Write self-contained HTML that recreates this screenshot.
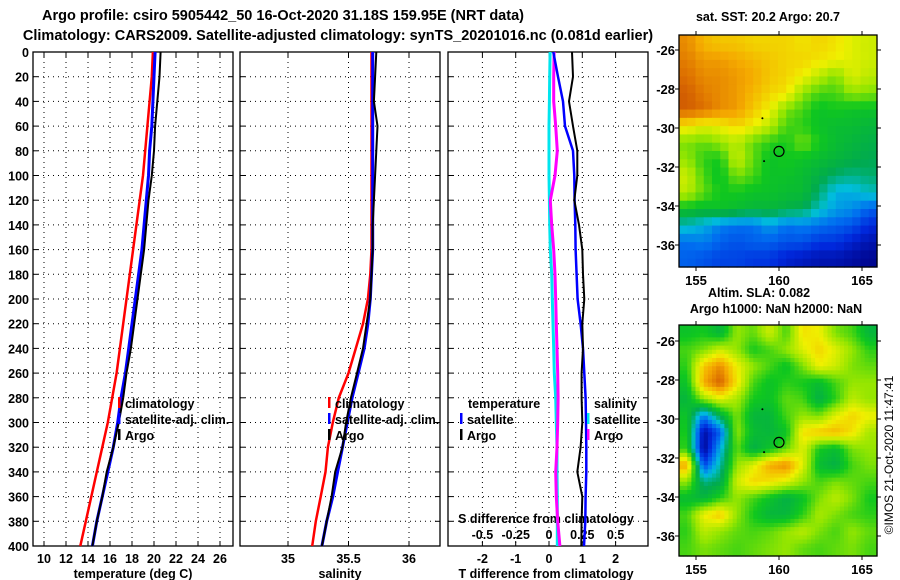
<!DOCTYPE html>
<html><head><meta charset="utf-8"><style>
html,body{margin:0;padding:0;background:#fff;}
svg{display:block;font-family:"Liberation Sans",Arial,sans-serif;font-weight:bold;}
</style></head><body>
<svg id="c" width="900" height="580" viewBox="0 0 900 580">
<text x="283" y="20" font-size="14.5" text-anchor="middle">Argo profile: csiro 5905442_50 16-Oct-2020 31.18S 159.95E (NRT data)</text>
<text x="338" y="40" font-size="14.5" text-anchor="middle">Climatology: CARS2009. Satellite-adjusted climatology: synTS_20201016.nc (0.081d earlier)</text>
<g id="g"></g>
</svg>
<script>
// ---- data ----
const depths = [0,20,40,60,80,100,120,140,160,180,200,220,240,260,280,300,320,340,360,380,400];
const tempClim = [19.9,19.8,19.6,19.4,19.2,19.0,18.7,18.4,18.1,17.8,17.5,17.2,16.9,16.6,16.2,15.8,15.3,14.8,14.3,13.8,13.3];
const tempSat  = [20.1,20.0,19.9,19.8,19.6,19.5,19.3,19.1,18.9,18.6,18.3,18.0,17.7,17.4,17.0,16.7,16.3,15.8,15.3,14.8,14.4];
const tempArgo = [20.6,20.5,20.3,20.1,20.0,19.8,19.5,19.3,19.1,18.8,18.5,18.2,17.9,17.5,17.2,16.8,16.3,15.7,15.3,14.8,14.4];
const salClim = [35.69,35.69,35.69,35.69,35.69,35.69,35.69,35.69,35.69,35.68,35.66,35.62,35.56,35.50,35.42,35.37,35.33,35.31,35.27,35.23,35.20];
const salSat  = [35.70,35.70,35.70,35.70,35.70,35.70,35.70,35.70,35.70,35.69,35.68,35.66,35.63,35.58,35.53,35.49,35.45,35.41,35.37,35.32,35.28];
const salArgo = [35.73,35.72,35.71,35.74,35.73,35.72,35.71,35.70,35.70,35.69,35.68,35.65,35.62,35.57,35.52,35.48,35.45,35.39,35.36,35.32,35.28];
const tDiffSat  = [0.13,0.27,0.42,0.48,0.72,0.76,0.77,0.79,0.80,0.83,0.86,0.95,1.02,1.06,1.10,1.11,1.12,1.12,1.10,1.09,1.05];
const tDiffArgo = [0.69,0.72,0.60,0.72,0.85,0.85,0.76,0.90,1.00,1.02,1.06,1.00,1.02,0.98,0.98,1.00,0.95,0.85,1.00,0.98,0.97];
const sDiffSat  = [0.008,0.005,0.003,0.0,0.0,0.0,0.003,0.005,0.01,0.02,0.025,0.03,0.035,0.04,0.05,0.055,0.06,0.06,0.062,0.062,0.062];
const sDiffArgo = [0.038,0.035,0.035,0.05,0.062,0.045,0.01,0.02,0.035,0.045,0.05,0.055,0.06,0.065,0.068,0.065,0.06,0.05,0.055,0.065,0.082];
const depthTicks = [0,20,40,60,80,100,120,140,160,180,200,220,240,260,280,300,320,340,360,380,400];
const tempTicks = [10,12,14,16,18,20,22,24,26];
const salTicks = [35,35.5,36];
const tdTicks = [-2,-1,0,1,2];
const sdTicks = [-0.5,-0.25,0,0.25,0.5];
// SST map (colour index 0..1), rows north->south, cols west->east
const sstGrid = [
[.86,.8,.78,.78,.76,.76,.76,.74,.76,.74,.7,.68],
[.88,.84,.84,.82,.8,.78,.76,.76,.74,.72,.7,.68],
[.9,.86,.86,.84,.82,.78,.76,.72,.66,.6,.7,.66],
[.92,.88,.86,.84,.8,.76,.74,.62,.56,.56,.62,.6],
[.92,.9,.86,.84,.78,.72,.6,.56,.5,.52,.5,.5],
[.74,.7,.72,.76,.72,.66,.56,.54,.5,.48,.48,.46],
[.6,.58,.62,.66,.58,.54,.52,.6,.52,.48,.46,.44],
[.62,.54,.52,.68,.58,.5,.52,.5,.48,.46,.44,.42],
[.68,.56,.5,.6,.56,.5,.5,.48,.44,.4,.38,.4],
[.66,.58,.52,.52,.5,.5,.48,.48,.4,.3,.3,.34],
[.5,.48,.5,.48,.46,.46,.44,.42,.34,.28,.26,.2],
[.34,.3,.24,.22,.22,.28,.22,.24,.22,.2,.18,.12],
[.22,.24,.2,.18,.2,.2,.18,.18,.14,.14,.1,.06],
[.2,.18,.16,.16,.14,.14,.1,.08,.06,.06,.04,.02]];
// SLA map (colour index 0..1)
const slaGrid = [
[.5,.52,.46,.62,.58,.68,.56,.74,.72,.6,.56,.46],
[.56,.6,.68,.62,.52,.56,.62,.7,.76,.7,.62,.54],
[.54,.78,.86,.72,.62,.56,.5,.6,.72,.68,.6,.58],
[.5,.82,.92,.74,.56,.5,.54,.52,.48,.56,.62,.62],
[.46,.62,.7,.64,.52,.5,.58,.56,.44,.54,.66,.62],
[.5,.24,.44,.6,.46,.46,.56,.62,.6,.7,.76,.72],
[.52,.04,.2,.62,.48,.46,.5,.74,.78,.8,.74,.64],
[.54,.02,.3,.58,.44,.5,.58,.7,.52,.48,.6,.62],
[.82,.16,.36,.62,.7,.82,.86,.7,.48,.44,.56,.6],
[.62,.38,.42,.68,.76,.74,.7,.62,.56,.6,.58,.56],
[.48,.46,.54,.62,.56,.5,.44,.5,.6,.66,.6,.52],
[.56,.72,.78,.62,.52,.46,.46,.54,.64,.6,.56,.54],
[.54,.66,.62,.58,.56,.58,.62,.66,.6,.56,.62,.58],
[.56,.6,.58,.56,.58,.6,.62,.58,.56,.58,.6,.56]];
const lonTicks = [155,160,165];
const latTicks = [-26,-28,-30,-32,-34,-36];
const argoPos = [160,-31.2];

// ---- drawing ----
const NS="http://www.w3.org/2000/svg", G=document.getElementById('g');
function mk(t,a,p){const e=document.createElementNS(NS,t);for(const k in a)e.setAttribute(k,a[k]);(p||G).appendChild(e);return e;}
const yTop=52,yBot=546;
const yD=d=>yTop+(d/400)*(yBot-yTop);
const P1={l:33,r:233,x:t=>44+(t-10)*11};
const P2={l:240,r:440,x:s=>288+(s-35)*121};
const P3={l:448,r:648,x:t=>549+t*33.3};
const xS=s=>549+s*4*33.3;
function panel(P,name,vTicks,fx){
  const r=mk('rect',{x:P.l,y:yTop,width:P.r-P.l,height:yBot-yTop,fill:'#fff',stroke:'#000','stroke-width':1.3});
  
  depthTicks.forEach(d=>{if(d>0&&d<400){const l=mk('line',{x1:P.l,x2:P.r,y1:yD(d),y2:yD(d),stroke:'#000','stroke-dasharray':'1 4'});
    mk('line',{x1:P.l,x2:P.l+5,y1:yD(d),y2:yD(d),stroke:'#000'});mk('line',{x1:P.r-5,x2:P.r,y1:yD(d),y2:yD(d),stroke:'#000'});}});
  vTicks.forEach(v=>{const x=fx(v);const l=mk('line',{x1:x,x2:x,y1:yTop,y2:yBot,stroke:'#000','stroke-dasharray':'1 4'});
    mk('line',{x1:x,x2:x,y1:yTop,y2:yTop+5,stroke:'#000'});mk('line',{x1:x,x2:x,y1:yBot-5,y2:yBot,stroke:'#000'});});
}
function series(vals,fx,color,name,w){
  const pts=vals.map((v,i)=>fx(v).toFixed(1)+','+yD(depths[i]).toFixed(1)).join(' ');
  const e=mk('polyline',{points:pts,fill:'none',stroke:color,'stroke-width':w||2.5});
  
}
function txt(x,y,s,o){const a=Object.assign({x:x,y:y,'font-size':12.5},o||{});const e=mk('text',a);e.textContent=s;return e;}

panel(P1,'temperature-panel',tempTicks,P1.x);
panel(P2,'salinity-panel',salTicks,P2.x);
panel(P3,'difference-panel',tdTicks,P3.x);
depthTicks.forEach(d=>{const e=txt(29,yD(d)+5,String(d),{'text-anchor':'end'});});
tempTicks.forEach(t=>{const e=txt(P1.x(t),563,String(t),{'text-anchor':'middle'});});
salTicks.forEach(t=>{const e=txt(P2.x(t),563,String(t),{'text-anchor':'middle'});});
tdTicks.forEach(t=>{const e=txt(P3.x(t),563,String(t),{'text-anchor':'middle'});});
sdTicks.forEach(t=>{const e=txt(xS(t),539,String(t),{'text-anchor':'middle'});});
let e;
e=txt(133,578,'temperature (deg C)',{'text-anchor':'middle'});
e=txt(340,578,'salinity',{'text-anchor':'middle'});
e=txt(546,578,'T difference from climatology',{'text-anchor':'middle'});
e=txt(546,523,'S difference from climatology',{'text-anchor':'middle'});

series(tempClim,P1.x,'#ff0000','temp-climatology-line');
series(tempSat,P1.x,'#0000ff','temp-satellite-line',3);
series(tempArgo,P1.x,'#000','temp-argo-line',2);
series(salClim,P2.x,'#ff0000','sal-climatology-line');
series(salSat,P2.x,'#0000ff','sal-satellite-line',3);
series(salArgo,P2.x,'#000','sal-argo-line',2);
series(sDiffSat,xS,'#00e5ee','sdiff-satellite-line',3);
series(sDiffArgo,xS,'#ff00ff','sdiff-argo-line',3);
series(tDiffSat,P3.x,'#0000ff','tdiff-satellite-line',2.5);
series(tDiffArgo,P3.x,'#000','tdiff-argo-line',2);

function leg(x,y,c,s,name){const b=mk('rect',{x:x,y:y-11,width:2.5,height:11,fill:c});
  const t=txt(x+7,y,s);}
leg(118,408,'#ff0000','climatology','legend-entry-climatology');
leg(118,424,'#0000ff','satellite-adj. clim.','legend-entry-satellite');
leg(118,440,'#000','Argo','legend-entry-argo');
leg(328,408,'#ff0000','climatology','legend-entry-climatology-sal');
leg(328,424,'#0000ff','satellite-adj. clim.','legend-entry-satellite-sal');
leg(328,440,'#000','Argo','legend-entry-argo-sal');
e=txt(468,408,'temperature');
leg(460,424,'#0000ff','satellite','legend-entry-tdiff-satellite');
leg(460,440,'#000','Argo','legend-entry-tdiff-argo');
e=txt(594,408,'salinity');
leg(587,424,'#00e5ee','satellite','legend-entry-sdiff-satellite');
leg(587,440,'#ff00ff','Argo','legend-entry-sdiff-argo');

// maps
const stops=[[0,[0,0,130]],[0.12,[0,40,220]],[0.22,[0,110,240]],[0.32,[0,190,220]],[0.42,[0,170,80]],[0.52,[16,200,30]],[0.62,[150,230,0]],[0.72,[240,240,0]],[0.82,[245,170,0]],[0.9,[220,110,0]],[1,[170,30,10]]];
function cmap(v){for(let i=1;i<stops.length;i++){if(v<=stops[i][0]){const a=stops[i-1],b=stops[i],f=(v-a[0])/(b[0]-a[0]);return 'rgb('+a[1].map((c,k)=>Math.round(c+(b[1][k]-c)*f)).join(',')+')';}}return 'rgb(170,30,10)';}
function sample(grid,fi,fj){ // bilinear sample at fractional cell index
  const R=grid.length,C=grid[0].length;
  fi=Math.max(0,Math.min(R-1,fi));fj=Math.max(0,Math.min(C-1,fj));
  const i0=Math.floor(fi),j0=Math.floor(fj),i1=Math.min(R-1,i0+1),j1=Math.min(C-1,j0+1),a=fi-i0,b=fj-j0;
  return grid[i0][j0]*(1-a)*(1-b)+grid[i0][j1]*(1-a)*b+grid[i1][j0]*a*(1-b)+grid[i1][j1]*a*b;
}
function map(M,grid,name,sub){
  const rows=grid.length,cols=grid[0].length,cw=(M.r-M.l)/cols/sub,ch=(M.b-M.t)/rows/sub;
  const lx=lon=>M.x155+(lon-155)*(M.x165-M.x155)/10, ly=lat=>M.y26+(lat+26)*(M.y36-M.y26)/-10;
  for(let i=0;i<rows*sub;i++)for(let j=0;j<cols*sub;j++){
    const v=sample(grid,(i+0.5)/sub-0.5,(j+0.5)/sub-0.5);
    const c=mk('rect',{x:(M.l+j*cw).toFixed(2),y:(M.t+i*ch).toFixed(2),width:(cw+0.6).toFixed(2),height:(ch+0.6).toFixed(2),fill:cmap(v)});
    
    
  }
  const f=mk('rect',{x:M.l,y:M.t,width:M.r-M.l,height:M.b-M.t,fill:'none',stroke:'#000','stroke-width':1.3});
  
  lonTicks.forEach(lon=>{const x=lx(lon);mk('line',{x1:x,x2:x,y1:M.t-4,y2:M.t,stroke:'#000'});mk('line',{x1:x,x2:x,y1:M.b,y2:M.b+4,stroke:'#000'});
    const t=txt(x,M.b+18,String(lon),{'text-anchor':'middle','font-size':13});});
  latTicks.forEach(lat=>{const y=ly(lat);mk('line',{x1:M.l-4,x2:M.l,y1:y,y2:y,stroke:'#000'});mk('line',{x1:M.r,x2:M.r+4,y1:y,y2:y,stroke:'#000'});
    const t=txt(M.l-4,y+5,String(lat),{'text-anchor':'end','font-size':13});});
  const c=mk('circle',{cx:lx(argoPos[0]),cy:ly(argoPos[1]),r:5,fill:'none',stroke:'#000','stroke-width':1.2});
  
  mk('circle',{cx:lx(159),cy:ly(-29.5),r:1,fill:'#000'});mk('circle',{cx:lx(159.1),cy:ly(-31.7),r:1,fill:'#000'});
}
map({l:679,r:877,t:35,b:267,x155:696,x165:862,y26:50,y36:245},sstGrid,'sst-map',2);
map({l:679,r:877,t:325,b:556,x155:696,x165:862,y26:341,y36:536},slaGrid,'sla-map',4);
e=txt(768,21,'sat. SST: 20.2 Argo: 20.7',{'text-anchor':'middle'});
e=txt(759,297,'Altim. SLA: 0.082',{'text-anchor':'middle'});
e=txt(776,313,'Argo h1000: NaN h2000: NaN',{'text-anchor':'middle'});
e=txt(0,0,'©IMOS 21-Oct-2020 11:47:41',{'text-anchor':'middle','font-size':12,'font-weight':'normal',transform:'translate(893,455) rotate(-90)'});
</script>
</body></html>
